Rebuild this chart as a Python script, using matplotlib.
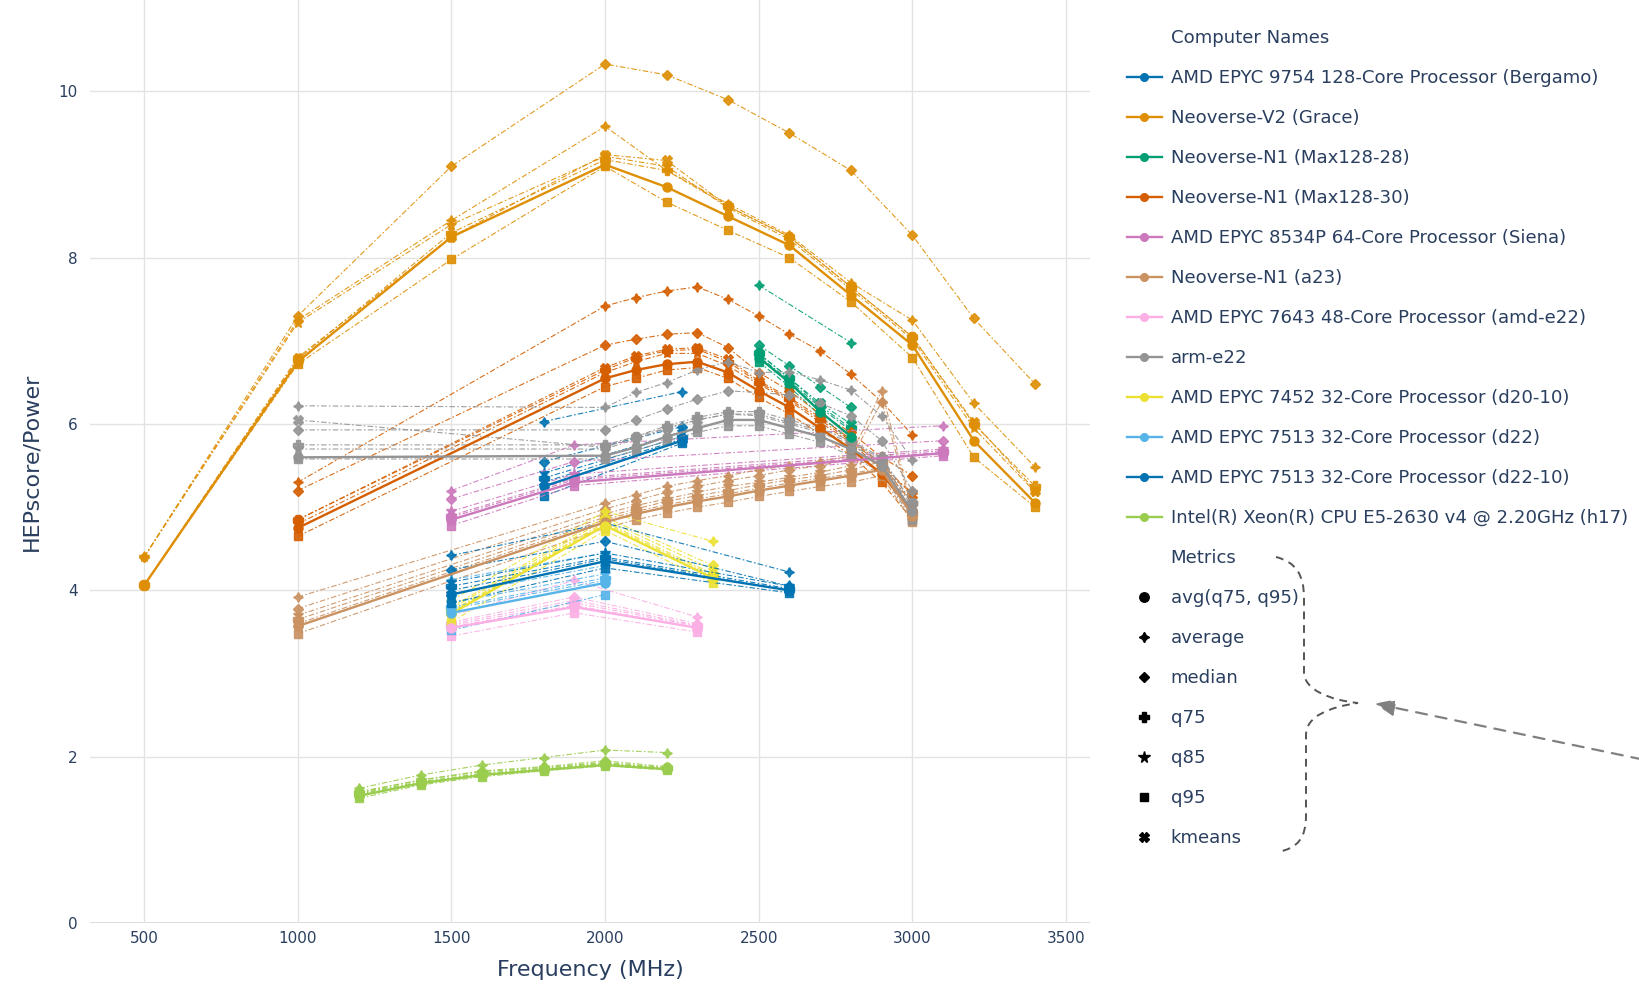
import numpy as np
import matplotlib
matplotlib.use("Agg")
import matplotlib.pyplot as plt
from matplotlib.lines import Line2D
from matplotlib.patches import PathPatch, FancyArrowPatch
from matplotlib.path import Path

nan = np.nan

metrics = ["avg(q75, q95)", "average", "median", "q75", "q85", "q95", "kmeans"]
metric_markers = ["o", (4, 1, 0), "D", "P", "*", "s", "X"]
metric_sizes = [6.5, 7, 5, 6.5, 8, 6, 6.5]

machines = [
    "AMD EPYC 9754 128-Core Processor (Bergamo)",
    "Neoverse-V2 (Grace)",
    "Neoverse-N1 (Max128-28)",
    "Neoverse-N1 (Max128-30)",
    "AMD EPYC 8534P 64-Core Processor (Siena)",
    "Neoverse-N1 (a23)",
    "AMD EPYC 7643 48-Core Processor (amd-e22)",
    "arm-e22",
    "AMD EPYC 7452 32-Core Processor (d20-10)",
    "AMD EPYC 7513 32-Core Processor (d22)",
    "AMD EPYC 7513 32-Core Processor (d22-10)",
    "Intel(R) Xeon(R) CPU E5-2630 v4 @ 2.20GHz (h17)",
]
colors = ["#0173b2", "#de8f05", "#029e73", "#d55e00", "#cc78bc", "#ca9161",
          "#fbafe4", "#949494", "#ece133", "#56b4e9", "#0173b2", "#9acd4e"]

# one row per metric, same order as `metrics`
bergamo_freq = [1800, 2250]
bergamo_vals = [[5.25, 5.80], [6.03, 6.39], [5.55, 5.97], [5.35, 5.85],
                [5.41, 5.90], [5.13, 5.77], [5.30, 5.82]]

grace_freq = [500, 1000, 1500, 2000, 2200, 2400, 2600, 2800, 3000, 3200, 3400]
grace_vals = [
    [4.06, 6.75, 8.25, 9.12, 8.85, 8.50, 8.15, 7.55, 6.95, 5.80, 5.05],
    [4.40, 7.25, 8.45, 9.58, 9.05, 8.65, 8.27, 7.70, 7.25, 6.25, 5.48],
    [4.40, 7.30, 9.10, 10.33, 10.20, 9.90, 9.50, 9.05, 8.27, 7.27, 6.48],
    [4.06, 6.78, 8.30, 9.18, 9.05, 8.62, 8.25, 7.65, 7.05, 6.00, 5.25],
    [4.40, 7.22, 8.40, 9.22, 9.10, 8.60, 8.22, 7.62, 7.02, 5.95, 5.18],
    [4.06, 6.72, 7.98, 9.10, 8.67, 8.33, 8.00, 7.47, 6.80, 5.60, 5.00],
    [4.06, 6.80, 8.25, 9.24, 9.17, 8.62, 8.25, 7.65, 7.05, 6.02, 5.20],
]

max28_freq = [2500, 2600, 2700, 2800]
max28_vals = [
    [6.80, 6.50, 6.15, 5.85],
    [7.67, nan, nan, 6.98],
    [6.95, 6.70, 6.45, 6.20],
    [6.85, 6.55, 6.22, 5.95],
    [6.82, 6.52, 6.20, 5.92],
    [6.75, 6.45, 6.10, 5.80],
    [6.85, 6.55, 6.25, 6.00],
]

max30_freq = [1000, 2000, 2100, 2200, 2300, 2400, 2500, 2600, 2700, 2800, 2900, 3000]
max30_vals = [
    [4.75, 6.55, 6.65, 6.72, 6.75, 6.62, 6.40, 6.20, 5.95, 5.70, 5.40, 4.95],
    [5.30, 7.42, 7.52, 7.60, 7.65, 7.50, 7.30, 7.08, 6.88, 6.60, 6.27, 5.87],
    [5.20, 6.95, 7.02, 7.08, 7.10, 6.92, 6.62, 6.40, 6.12, 5.90, 5.60, 5.38],
    [4.85, 6.65, 6.80, 6.88, 6.90, 6.75, 6.50, 6.30, 6.05, 5.80, 5.50, 5.05],
    [4.80, 6.62, 6.75, 6.85, 6.85, 6.70, 6.48, 6.28, 6.02, 5.78, 5.45, 5.18],
    [4.65, 6.45, 6.55, 6.65, 6.68, 6.55, 6.32, 6.12, 5.88, 5.62, 5.30, 4.85],
    [4.85, 6.68, 6.82, 6.90, 6.92, 6.78, 6.52, 6.32, 6.08, 5.82, 5.52, 5.15],
]

siena_freq = [1500, 1900, 3100]
siena_vals = [[4.85, 5.30, 5.65], [5.20, 5.75, 5.98], [5.10, 5.55, 5.80],
              [4.90, 5.35, 5.68], [4.95, 5.40, 5.70], [4.78, 5.26, 5.62],
              [4.88, 5.33, 5.66]]

a23_freq = [1000, 2000, 2100, 2200, 2300, 2400, 2500, 2600, 2700, 2800, 2900, 3000]
a23_vals = [
    [3.57, 4.82, 4.92, 5.00, 5.07, 5.13, 5.20, 5.26, 5.32, 5.38, 5.45, 4.90],
    [3.92, 5.05, 5.15, 5.25, 5.32, 5.38, 5.45, 5.50, 5.55, 5.62, 6.40, 4.98],
    [3.78, 4.98, 5.08, 5.18, 5.25, 5.32, 5.38, 5.45, 5.50, 5.58, 6.27, 4.95],
    [3.65, 4.88, 4.98, 5.07, 5.14, 5.20, 5.27, 5.33, 5.38, 5.45, 5.55, 4.92],
    [3.70, 4.92, 5.02, 5.10, 5.18, 5.25, 5.30, 5.36, 5.42, 5.50, 5.60, 4.93],
    [3.48, 4.75, 4.85, 4.93, 5.00, 5.06, 5.13, 5.19, 5.25, 5.30, 5.38, 4.82],
    [3.60, 4.85, 4.95, 5.03, 5.10, 5.16, 5.23, 5.29, 5.35, 5.40, 5.48, 4.88],
]

amde22_freq = [1500, 1900, 2300]
amde22_vals = [[3.55, 3.80, 3.55], [3.70, 4.12, 3.68], [3.62, 3.92, 3.60],
               [3.58, 3.85, 3.57], [3.60, 3.88, 3.58], [3.45, 3.73, 3.50],
               [3.56, 3.82, 3.55]]

arme22_freq = [1000, 2000, 2100, 2200, 2300, 2400, 2500, 2600, 2700, 2800, 2900, 3000]
arme22_vals = [
    [5.60, 5.62, 5.72, 5.85, 5.95, 6.05, 6.05, 5.95, 5.85, 5.70, 5.50, 4.95],
    [6.22, 6.20, 6.38, 6.50, 6.65, 6.75, 6.62, 6.63, 6.53, 6.41, 6.10, 5.57],
    [5.93, 5.93, 6.05, 6.18, 6.30, 6.40, 6.38, 6.35, 6.25, 6.10, 5.80, 5.20],
    [5.75, 5.75, 5.85, 5.98, 6.08, 6.15, 6.15, 6.05, 5.95, 5.80, 5.60, 5.05],
    [5.70, 5.70, 5.82, 5.95, 6.05, 6.12, 6.10, 6.00, 5.90, 5.75, 5.55, 5.00],
    [5.58, 5.58, 5.68, 5.80, 5.90, 5.98, 5.98, 5.88, 5.78, 5.62, 5.42, 4.85],
    [6.05, 5.72, 5.85, 5.95, 6.05, 6.12, 6.12, 6.02, 5.92, 5.78, 5.58, 5.05],
]

d2010_freq = [1500, 2000, 2350]
d2010_vals = [[3.72, 4.78, 4.15], [3.88, 4.95, 4.59], [3.80, 4.88, 4.30],
              [3.75, 4.82, 4.20], [3.78, 4.85, 4.25], [3.62, 4.72, 4.09],
              [3.74, 4.80, 4.18]]

d22_freq = [1500, 2000]
d22_vals = [[3.73, 4.09], [4.13, 4.45], [3.95, 4.30], [3.80, 4.15],
            [3.85, 4.20], [3.52, 3.95], [3.78, 4.12]]

d2210_freq = [1500, 2000, 2600]
d2210_vals = [[3.95, 4.35, 4.00], [4.42, 4.81, 4.22], [4.25, 4.59, 4.05],
              [4.05, 4.40, 4.02], [4.10, 4.45, 4.05], [3.85, 4.27, 3.97],
              [4.00, 4.38, 4.00]]

h17_freq = [1200, 1400, 1600, 1800, 2000, 2200]
h17_vals = [
    [1.53, 1.68, 1.78, 1.84, 1.90, 1.85],
    [1.62, 1.78, 1.90, 1.99, 2.08, 2.05],
    [1.58, 1.72, 1.83, 1.88, 1.95, 1.88],
    [1.56, 1.70, 1.80, 1.86, 1.92, 1.86],
    [1.57, 1.72, 1.82, 1.87, 1.93, 1.87],
    [1.50, 1.66, 1.76, 1.83, 1.89, 1.84],
    [1.55, 1.69, 1.79, 1.85, 1.91, 1.86],
]

all_freqs = [bergamo_freq, grace_freq, max28_freq, max30_freq, siena_freq, a23_freq,
             amde22_freq, arme22_freq, d2010_freq, d22_freq, d2210_freq, h17_freq]
all_vals = [bergamo_vals, grace_vals, max28_vals, max30_vals, siena_vals, a23_vals,
            amde22_vals, arme22_vals, d2010_vals, d22_vals, d2210_vals, h17_vals]

TEXT = "#2a3f5f"
W, H = 1639, 984
plt.rcParams["font.family"] = ["DejaVu Sans"]

fig = plt.figure(figsize=(W / 100, H / 100), dpi=100)
ax = fig.add_axes([90 / W, 61 / H, 1000 / W, 923 / H])

for color, freq, vals in zip(colors, all_freqs, all_vals):
    freq = np.array(freq, dtype=float)
    for i, v in enumerate(vals):
        v = np.array(v, dtype=float)
        ok = ~np.isnan(v)
        if i == 0:
            ax.plot(freq[ok], v[ok], color=color, lw=1.7, marker="o",
                    ms=metric_sizes[i], zorder=3)
        else:
            ax.plot(freq[ok], v[ok], color=color, lw=0.8, alpha=0.9,
                    linestyle=(0, (5, 2, 1.5, 2)), marker=metric_markers[i],
                    ms=metric_sizes[i], zorder=2)

ax.set_xlim(324, 3578)
ax.set_ylim(0, 11.1)
ax.set_xticks([500, 1000, 1500, 2000, 2500, 3000, 3500])
ax.set_yticks([0, 2, 4, 6, 8, 10])
ax.grid(color="#e3e3e3", lw=1)
ax.set_axisbelow(True)
ax.axhline(0, color="#d8d8d8", lw=2, zorder=0)
for s in ax.spines.values():
    s.set_visible(False)
ax.tick_params(length=0, labelsize=11, labelcolor=TEXT)
ax.tick_params(axis="y", pad=9)
ax.tick_params(axis="x", pad=6)
ax.set_xlabel("Frequency (MHz)", fontsize=16, color=TEXT, labelpad=10)
ax.set_ylabel("HEPscore/Power", fontsize=16, color=TEXT, labelpad=12)

# legend: group titles as rows without handle, like plotly
blank = Line2D([], [], linestyle="none")
handles = [blank]
labels = ["Computer Names"]
for name, color in zip(machines, colors):
    handles.append(Line2D([], [], color=color, lw=1.7, marker="o", ms=5.5))
    labels.append(name)
handles.append(blank)
labels.append("Metrics")
for m, mk, ms in zip(metrics, metric_markers, metric_sizes):
    handles.append(Line2D([], [], color="black", linestyle="none", marker=mk,
                          ms=ms * 1.05))
    labels.append(m)

fig.legend(handles, labels, loc="upper left",
           bbox_to_anchor=(1127 / W, 1 - 29 / H), frameon=False,
           fontsize=13.1, labelcolor=TEXT, borderpad=0, borderaxespad=0,
           handlelength=1.9, handletextpad=0.5, labelspacing=1.21)


def fpt(x, y):
    return (x / W, 1 - y / H)


# dashed curly brace around the metrics group
brace = [(1276, 557), (1296, 562), (1304, 575), (1304, 598),
         (1304, 672), (1304, 690), (1330, 700), (1358, 703),
         (1330, 707), (1306, 716), (1306, 735),
         (1306, 815), (1306, 838), (1298, 848), (1278, 852)]
codes = [Path.MOVETO, Path.CURVE4, Path.CURVE4, Path.CURVE4,
         Path.LINETO, Path.CURVE4, Path.CURVE4, Path.CURVE4,
         Path.CURVE4, Path.CURVE4, Path.CURVE4,
         Path.LINETO, Path.CURVE4, Path.CURVE4, Path.CURVE4]
path = Path([fpt(x, y) for x, y in brace], codes)
fig.add_artist(PathPatch(path, transform=fig.transFigure, fill=False,
                         edgecolor="#555555", lw=1.4, linestyle=(0, (4, 3))))

arrow = FancyArrowPatch(fpt(1645, 760), fpt(1372, 703), transform=fig.transFigure,
                        arrowstyle="-|>,head_length=12,head_width=5",
                        color="#808080", lw=1.6, linestyle=(0, (5, 4)),
                        mutation_scale=1)
fig.add_artist(arrow)

fig.savefig("out.png", dpi=100)
